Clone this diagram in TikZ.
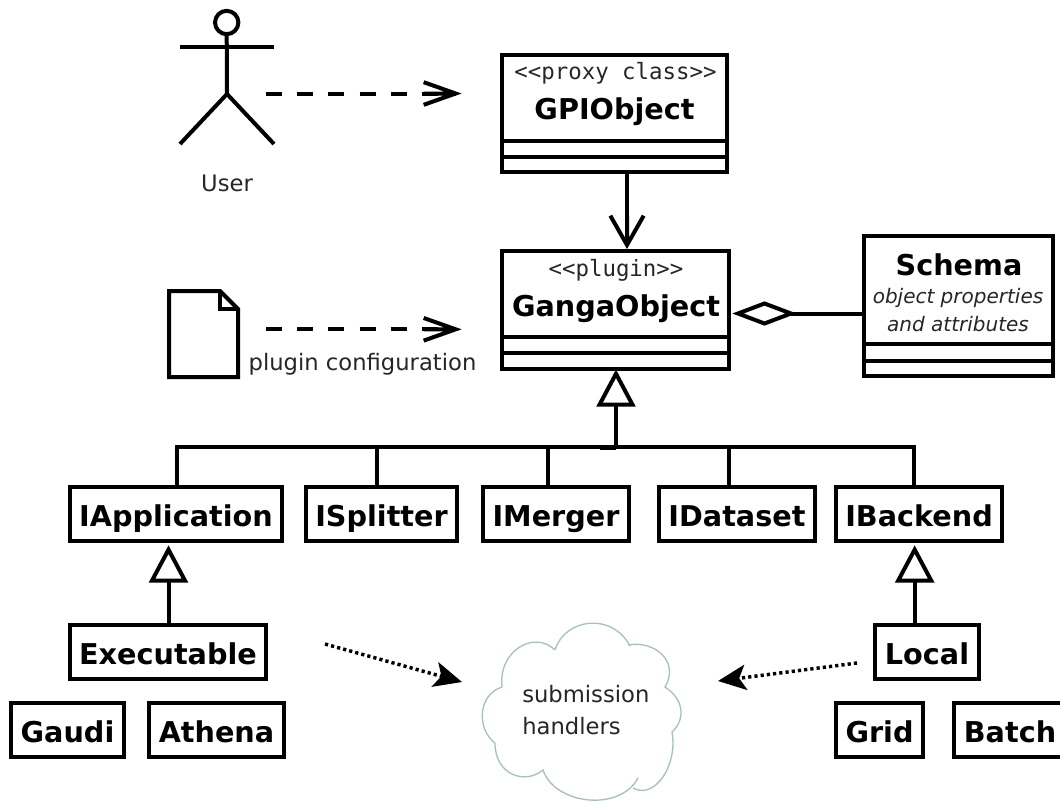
\documentclass[tikz,border=0pt]{standalone}
\usepackage{fontspec}
\setmainfont{DejaVu Sans}
\setmonofont{DejaVu Sans Mono}
\usetikzlibrary{arrows.meta,calc}
\pgfdeclarearrow{
  name=Chev,
  setup code={
    \pgfarrowssettipend{4pt}
    \pgfarrowssetlineend{0pt}
    \pgfarrowssetvisualbackend{0pt}
    \pgfarrowssetbackend{-\pgfarrowlength}
    \pgfarrowshullpoint{4pt}{0pt}
    \pgfarrowsupperhullpoint{-\pgfarrowlength}{.5\pgfarrowwidth}
    \pgfarrowssavethe\pgfarrowlength
    \pgfarrowssavethe\pgfarrowwidth
    \pgfarrowssavethe\pgfarrowlinewidth
  },
  drawing code={
    \pgfsetdash{}{0pt}
    \pgfsetlinewidth{\pgfarrowlinewidth}
    \pgfsetmiterjoin
    \pgfsetbuttcap
    \pgfpathmoveto{\pgfqpoint{-\pgfarrowlength}{.5\pgfarrowwidth}}
    \pgfpathlineto{\pgfqpoint{0pt}{0pt}}
    \pgfpathlineto{\pgfqpoint{-\pgfarrowlength}{-.5\pgfarrowwidth}}
    \pgfpathmoveto{\pgfqpoint{-\pgfarrowlength}{0pt}}
    \pgfpathlineto{\pgfqpoint{0pt}{0pt}}
    \pgfusepathqstroke
  },
  parameters={\the\pgfarrowlength,\the\pgfarrowwidth,\the\pgfarrowlinewidth},
  defaults={length=24pt,width=16pt,line width=0pt 1}
}
\tikzset{
  x=0.75pt,y=-0.75pt,
  ln/.style={line width=3pt,black},
  box/.style={draw=black,line width=3pt,fill=white,rectangle,inner sep=0pt,outer sep=0pt,
    text height=18.8pt,text depth=0pt,
    font=\fontsize{21.5}{25}\selectfont\bfseries},
  boxsz/.style 2 args={minimum width=#1*0.75pt-3pt,minimum height=#2*0.75pt-3pt},
  title/.style={inner sep=0pt,anchor=base,font=\fontsize{21.5}{25}\selectfont\bfseries},
  stereo/.style={inner sep=0pt,anchor=base,text=black!85,font=\fontsize{16.8}{20}\selectfont\ttfamily},
  plain/.style={inner sep=0pt,anchor=base,text=black!85,font=\fontsize{17}{20}\selectfont},
  note/.style={inner sep=0pt,text=black!85,align=center,font=\fontsize{15}{21}\selectfont\itshape},
  inherit/.style={ln,-{Triangle[open,fill=white,length=28pt,width=29pt,line width=3pt]}},
  dep/.style={ln,-{Chev[length=24pt,width=17pt]},dash pattern=on 12pt off 11.4pt},
  nav/.style={ln,-{Chev[length=22pt,width=25pt]},shorten >=0.5pt},
  dots/.style={line width=2.6pt,black,dash pattern=on 2.4pt off 2.3pt,-{Stealth[length=21pt,width=19pt,inset=5pt]}},
}
\begin{document}
\begin{tikzpicture}
\useasboundingbox (0,0) rectangle (1060,801);
\clip (0,0) rectangle (1060,801);
\fill[white] (0,0) rectangle (1060,801);

% actor
\node[draw=black,line width=3pt,circle,minimum size=17.5pt,inner sep=0pt,outer sep=0pt] (head) at (226.7,22.5) {};
\coordinate (shL) at (180,47);
\coordinate (shR) at (274,47);
\coordinate (hip) at (227,94);
\coordinate (footL) at (180,144);
\coordinate (footR) at (274,144);
\draw[ln] (head.south) -- (hip);
\draw[ln] (shL) -- (shR);
\draw[ln] (footL) -- (hip) -- (footR);
\node[plain] (user) at (227,191) {User};

% GPIObject
\node[box,boxsz={229}{121}] (gpi) at (614.5,113.5) {};
\node[stereo] (gpiS) at (615.5,79) {<<proxy class>>};
\node[title] (gpiT) at (614.5,119.5) {GPIObject};
\draw[ln] (gpi.west |- 0,141) coordinate (a1) -- (gpi.east |- a1);
\draw[ln] (gpi.west |- 0,157) coordinate (a2) -- (gpi.east |- a2);

% GangaObject
\node[box,boxsz={231}{122}] (ganga) at (615.5,310) {};
\node[stereo] (gangaS) at (616,276) {<<plugin>>};
\node[title] (gangaT) at (616,316) {GangaObject};
\draw[ln] (ganga.west |- 0,337) coordinate (b1) -- (ganga.east |- b1);
\draw[ln] (ganga.west |- 0,353) coordinate (b2) -- (ganga.east |- b2);

% Schema
\node[box,boxsz={193}{144}] (schema) at (958.5,306) {};
\node[title] (schemaT) at (959,275) {Schema};
\node[note] (schemaN) at (958,310) {object properties\\and attributes};
\draw[ln] (schema.west |- 0,344) coordinate (c1) -- (schema.east |- c1);
\draw[ln] (schema.west |- 0,361) coordinate (c2) -- (schema.east |- c2);

% document
\draw[ln,line join=miter] (169,291) -- (220,291) -- (238,309) -- (238,377) -- (169,377) -- cycle;
\draw[ln] (220,291) -- (220,309) -- (238,309);
\node[plain] (plug) at (362.5,370) {plugin configuration};

% interface row
\node[box,boxsz={216}{58}] (iapp) at (176,514) {IApplication};
\node[box,boxsz={155}{58}] (ispl) at (381.5,514) {ISplitter};
\node[box,boxsz={150}{58}] (imer) at (556,514) {IMerger};
\node[box,boxsz={160}{58}] (idat) at (737,514) {IDataset};
\node[box,boxsz={170}{58}] (ibak) at (919,514) {IBackend};

% concrete row
\node[box,boxsz={200}{58}] (exe) at (168,652) {Executable};
\node[box,boxsz={108}{58}] (loc) at (927,652) {Local};
\node[box,boxsz={117}{58}] (gau) at (67.5,730) {Gaudi};
\node[box,boxsz={139}{58}] (ath) at (216.5,730) {Athena};
\node[box,boxsz={91}{58}] (gri) at (879.5,730) {Grid};
\node[box,boxsz={116}{58}] (bat) at (1010,730) {Batch};

% cloud
\draw[color={rgb,255:red,168;green,192;blue,196},line width=1pt,fill=white]
  (555,650) .. controls (565,618) and (612,612) .. (630,646)
  (628,645) .. controls (655,640) and (680,662) .. (665,687)
  .. controls (685,700) and (685,720) .. (672,732)
  .. controls (678,765) and (655,800) .. (633,788)
  (638,778) .. controls (620,812) and (555,805) .. (543,770)
  .. controls (525,785) and (495,775) .. (495,743)
  .. controls (477,730) and (477,695) .. (502,687)
  .. controls (498,650) and (535,630) .. (555,650);
\node[inner sep=0pt,text=black!85,align=left,font=\fontsize{17}{24}\selectfont,anchor=west] (cloudT) at (522,710) {submission\\handlers};

% free ends
\coordinate (d1s) at (266,93.5);
\coordinate (d1e) at (461,93.5);
\coordinate (d2s) at (266,329.3);
\coordinate (d2e) at (461,329.3);
\coordinate (e1s) at (325,644);
\coordinate (e1e) at (462,682);
\coordinate (e2s) at (857,663);
\coordinate (e2e) at (718,681);
\draw[dep] (d1s) -- (d1e);
\draw[dep] (d2s) -- (d2e);
\draw[dots] (e1s) -- (e1e);
\draw[dots] (e2s) -- (e2e);

% navigation gpi -> ganga
\draw[nav] (gpi.south -| 627,0) coordinate (n1) -- (ganga.north -| n1);

% aggregation
\coordinate (dmdTip) at (738,313.5);
\coordinate (dmdEnd) at (791,313.5);
\draw[ln] (schema.west |- dmdEnd) -- (dmdEnd);
\draw[ln,fill=white,line join=miter] (dmdTip) -- (764.5,303.5) -- (dmdEnd) -- (764.5,323.5) -- cycle;

% inheritance bus
\coordinate (bus0) at (176.5,447);
\coordinate (bus1) at (377,447);
\coordinate (bus2) at (548,447);
\coordinate (bus3) at (616,447);
\coordinate (bus4) at (729,447);
\coordinate (bus5) at (914,447);
\coordinate (stub) at (600,448);
\draw[ln,line cap=rect,line join=miter] (iapp.north -| bus0) -- (bus0) -- (bus5) -- (ibak.north -| bus5);
\draw[ln] (bus1) -- (ispl.north -| bus1);
\draw[ln] (bus2) -- (imer.north -| bus2);
\draw[ln] (bus4) -- (idat.north -| bus4);
\draw[ln] (stub) -- (stub -| bus3);
\draw[inherit,shorten >=0.3pt] (bus3) -- (ganga.south -| bus3);
\draw[inherit,shorten >=3.2pt] (exe.north -| 168.5,0) coordinate (t1) -- (iapp.south -| t1);
\draw[inherit,shorten >=3.2pt] (loc.north -| 914.7,0) coordinate (t2) -- (ibak.south -| t2);
\end{tikzpicture}
\end{document}
